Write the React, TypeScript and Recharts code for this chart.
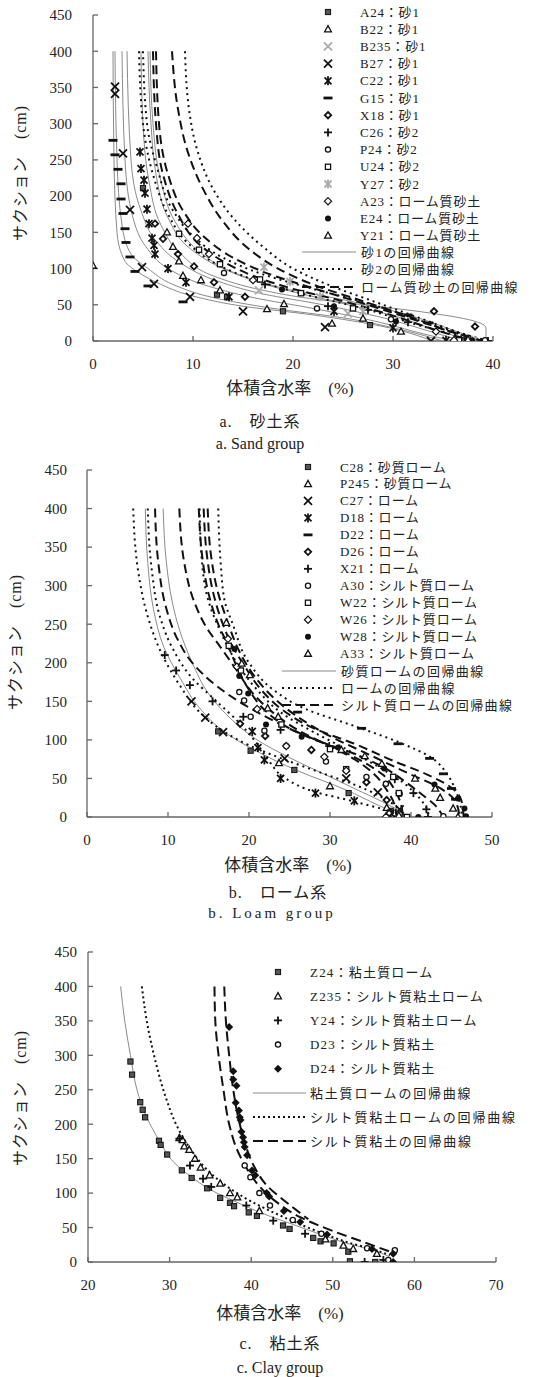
import React from "react";
import { ScatterChart, Scatter, XAxis, YAxis } from "recharts";

const SERIF = "'Liberation Serif', 'DejaVu Serif', 'Noto Sans CJK JP', serif";

// ---------- a. 砂土系 ----------
const a_A24 = [[5.0, 211], [12.4, 64], [13.4, 61], [19.0, 41], [27.7, 22], [36.9, 1]];
const a_B22 = [[0, 104], [7.4, 150], [8.0, 130], [8.6, 110], [10.8, 84], [17.4, 44], [23.9, 24], [36.5, 1]];
const a_B235 = [[16.6, 70], [25.5, 38], [38.0, 0]];
const a_B27 = [[2.2, 351], [2.2, 341], [3.0, 259], [3.7, 181], [4.9, 102], [6.1, 79], [9.7, 61], [15.0, 41], [23.2, 19], [33.8, 0]];
const a_C22 = [[4.7, 261], [4.8, 238], [5.1, 222], [5.2, 204], [5.4, 182], [5.6, 162], [5.9, 142], [6.1, 132], [6.2, 120], [7.5, 100], [9.3, 81], [13.6, 61], [24.1, 41], [30.0, 18], [35.3, 1]];
const a_G15 = [[2.0, 277], [2.2, 257], [2.5, 237], [2.8, 217], [2.8, 196], [3.0, 176], [3.2, 155], [3.3, 136], [3.7, 116], [4.2, 96], [5.5, 76], [9.0, 54], [31.5, 36], [33.6, 25]];
const a_X18 = [[6.2, 162], [7.0, 141], [8.5, 120], [10.1, 103], [12.1, 81], [15.2, 61], [34.1, 41], [38.2, 20], [37.5, 3]];
const a_C26 = [[17.2, 78], [23.5, 48], [27.5, 43], [31.5, 26], [39.5, 0]];
const a_P24 = [[13.1, 94], [22.4, 45], [29.8, 30], [39.2, 1]];
const a_U24 = [[8.6, 148], [10.6, 126], [12.7, 106], [16.7, 85], [20.8, 66], [26.0, 45], [36.6, 1]];
const a_Y27 = [[17.1, 102], [19.7, 82], [22.7, 61], [27.0, 41], [37.9, 1]];
const a_A23 = [[9.5, 162], [10.4, 142], [11.6, 120], [16.0, 84], [34.3, 13], [36.1, 1]];
const a_E24 = [[18.9, 71], [24.1, 48], [30.3, 27], [37.9, 1]];
const a_Y21 = [[9.0, 90], [12.7, 70], [19.1, 51], [27.0, 31], [30.8, 13], [37.5, 2]];

// regression curves
const a_sand1 = [
  [[2.0, 400], [2.1, 250], [2.4, 150], [3.2, 110], [4.5, 95], [6.5, 80], [10, 62], [15, 48], [22, 36], [29, 20], [34, 0]],
  [[2.2, 400], [2.4, 250], [2.9, 160], [3.8, 120], [5.5, 100], [8, 78], [12, 60], [18, 45], [25, 32], [31, 15], [35, 0]],
  [[2.9, 400], [3.2, 250], [4.0, 170], [5.3, 130], [7.5, 100], [11, 78], [16, 60], [22, 45], [28, 28], [33, 10], [36, 0]],
  [[3.4, 400], [3.8, 250], [4.8, 180], [6.2, 140], [8.5, 110], [12, 85], [17, 65], [23, 50], [29, 32], [34, 12], [37, 0]],
  [[4.8, 400], [5.0, 300], [5.6, 220], [6.8, 160], [8.8, 120], [12, 90], [17, 70], [21, 60], [27, 50], [33, 40], [38, 28], [39.3, 18], [39.3, 0]],
  [[5.5, 400], [5.8, 300], [6.3, 230], [7.5, 170], [9.5, 130], [13, 100], [18, 75], [24, 55], [30, 35], [35, 12], [38, 0]],
  [[5.7, 400], [6.0, 300], [6.8, 220], [8.2, 165], [10.5, 125], [14, 95], [19, 73], [25, 57], [31, 38], [36, 15], [39, 0]],
];
const a_sand2 = [
  [[4.6, 400], [5.0, 300], [6.0, 230], [7.5, 175], [9.5, 135], [12.5, 105], [16, 85], [21, 65], [27, 45], [33, 20], [37, 5], [38, 0]],
  [[5.0, 400], [5.4, 300], [6.4, 240], [8, 180], [10, 145], [13, 115], [17, 92], [22, 72], [28, 50], [34, 22], [38, 5], [39, 0]],
  [[9.2, 400], [9.6, 320], [10.5, 260], [12, 210], [14, 170], [17, 130], [20, 100], [24, 75], [28, 55], [33, 30], [37, 10], [39.5, 0]],
];
const a_loamySand = [
  [[6.0, 400], [6.3, 300], [7.0, 230], [8.5, 175], [10.5, 135], [13, 110], [16, 90], [20, 72], [25, 55], [30, 35], [35, 12], [38, 0]],
  [[6.3, 400], [6.6, 300], [7.5, 230], [9, 180], [11, 145], [14, 115], [17.5, 93], [22, 73], [27, 52], [32, 30], [36, 12], [39, 0]],
  [[7.9, 400], [8.5, 320], [9.5, 260], [11, 210], [13, 165], [15.5, 128], [18.5, 100], [22, 78], [27, 55], [32, 32], [36, 12], [39, 0]],
];

// ---------- b. ローム系 ----------
const b_C28 = [[16.2, 111], [20.2, 86], [25.6, 61], [32.3, 31], [37.5, 8], [39.2, 0]];
const b_P245 = [[23.7, 70], [30.0, 40], [37.0, 12], [38.5, 2]];
const b_C27 = [[12.9, 150], [14.6, 129], [16.8, 110], [24.4, 76], [32.0, 50], [35.9, 32], [38.6, 10]];
const b_D18 = [[20.4, 111], [21.1, 90], [21.9, 74], [23.9, 50], [28.2, 31], [33.0, 21], [37.5, 5]];
const b_D22 = [[26.0, 136], [33.9, 115], [38.4, 95], [42.3, 76], [44.0, 56], [45.0, 37], [45.5, 23]];
const b_D26 = [[18.9, 121], [22.0, 105], [27.7, 87], [34.5, 45], [37.0, 22], [37.3, 5]];
const b_X21 = [[9.6, 210], [11.0, 190], [12.7, 171], [15.5, 150], [19.3, 130], [23.9, 113], [29.9, 92], [38.0, 49], [40.3, 31], [41.9, 10], [42.1, 0]];
const b_A30 = [[18.8, 162], [19.4, 151], [20.2, 130], [21.9, 112], [24.6, 92], [29.5, 72], [34.5, 52], [36.9, 43], [38.6, 30], [44.0, 1]];
const b_W22 = [[17.5, 222], [19.0, 190], [24.0, 120], [30.0, 88], [32.0, 62], [37.8, 52], [38.5, 31], [39.5, 0]];
const b_W26 = [[17.4, 231], [18.5, 195], [21.0, 140], [24.6, 92], [29.3, 78], [32.0, 60], [36.9, 0]];
const b_W28 = [[18.2, 218], [18.8, 183], [19.9, 160], [22.1, 120], [26.5, 104], [31.0, 90], [36.7, 63], [42.9, 42], [45.8, 24], [46.6, 11], [46.8, 1], [40.9, 0]];
const b_A33 = [[17.2, 252], [19.1, 199], [20.1, 184], [22.3, 141], [23.6, 130], [31.4, 87], [34.3, 79], [36.4, 69], [40.5, 50], [43.0, 37], [43.6, 25], [45.2, 11], [45.8, 0]];

const b_sandyLoam = [
  [[7.2, 400], [7.5, 330], [8.2, 270], [9.5, 220], [11.5, 180], [14, 140], [17, 110], [21, 85], [26, 60], [32, 35], [36, 15], [38.5, 3], [39, 0]],
  [[9.4, 400], [9.8, 330], [10.5, 280], [11.5, 240], [13, 200], [15, 160], [18, 125], [21, 100], [25, 77], [30, 52], [34, 32], [37, 17], [39, 5], [39.5, 0]],
];
const b_loam = [
  [[5.7, 400], [6.3, 320], [7.5, 260], [9.3, 210], [11.5, 170], [14, 135], [17, 110], [20, 93], [24, 76], [29, 57], [33, 42], [36, 28], [38.5, 10], [39, 0]],
  [[7.5, 400], [8, 320], [9, 260], [10.5, 220], [13, 180], [16, 150], [19, 120], [21, 95], [22.5, 72], [24.5, 50], [28, 33], [33, 20], [37, 8], [38, 0]],
  [[13.9, 400], [14.2, 330], [15, 280], [16.5, 240], [18.5, 200], [21, 165], [24, 135], [28, 110], [32, 88], [36, 65], [39, 45], [41, 25], [42, 10], [42.2, 0]],
  [[16.2, 400], [16.5, 330], [17, 280], [18, 250], [20, 200], [23, 165], [27, 140], [33, 118], [38.5, 97], [42.5, 77], [44.5, 55], [45.5, 35], [46, 20], [46.3, 0]],
];
const b_siltLoam = [
  [[8.4, 400], [8.8, 330], [9.8, 270], [11.2, 230], [13, 200], [16, 170], [19.5, 145], [23, 125], [27, 105], [31, 88], [34, 72], [36.5, 55], [38, 35], [38.8, 15], [39, 0]],
  [[11.4, 400], [12, 330], [13.2, 280], [14.8, 245], [16.5, 220], [18.5, 190], [20.5, 160], [23, 135], [26.5, 110], [30, 92], [33, 75], [35.5, 55], [37, 35], [38, 15], [38.2, 0]],
  [[13.8, 400], [14.2, 340], [15, 290], [16.2, 250], [17.3, 225], [18.5, 195], [20, 165], [22, 138], [25, 115], [29, 97], [33, 82], [36.5, 65], [39, 48], [41, 32], [43, 15], [44, 0]],
  [[14.4, 400], [14.8, 340], [15.6, 290], [16.6, 255], [17.8, 225], [19.5, 195], [21.5, 165], [24, 140], [28, 115], [33, 95], [38, 72], [42, 55], [45, 38], [46.2, 22], [46.5, 0]],
  [[14.9, 400], [15.3, 340], [16.2, 290], [17.3, 255], [18.8, 215], [20.5, 185], [23, 155], [26, 130], [30, 105], [35, 80], [40, 55], [43.5, 38], [45.5, 20], [46, 0]],
];

// ---------- c. 粘土系 ----------
const c_Z24 = [[25.2, 291], [25.4, 272], [26.4, 232], [26.7, 221], [27.0, 210], [28.7, 176], [28.9, 170], [29.7, 156], [31.5, 133], [32.7, 122], [34.6, 107], [36.2, 93], [37.4, 86], [37.9, 81], [39.7, 72], [40.7, 67], [43.9, 53], [44.7, 48], [47.6, 35], [48.5, 30], [50.1, 27], [51.9, 15], [52.1, 1], [55.2, 0]];
const c_Z235 = [[31.2, 180], [31.6, 177], [31.8, 168], [32.4, 163], [33.1, 150], [33.8, 137], [34.9, 126], [36.2, 114], [37.4, 100], [38.3, 94], [41.0, 74], [49.1, 33], [51.3, 24], [52.5, 19], [55.4, 12]];
const c_Y24 = [[31.2, 179], [32.5, 140], [34.1, 121], [35.1, 109], [39.4, 82], [42.7, 60], [46.6, 41], [53.9, 0], [56.2, 3]];
const c_D23 = [[39.2, 140], [39.9, 123], [41.0, 100], [42.3, 82], [45.1, 61], [48.6, 41], [54.2, 20], [57.6, 17], [56.8, 3]];
const c_D24 = [[37.3, 341], [37.8, 277], [37.8, 265], [38.2, 256], [38.1, 231], [38.5, 220], [38.6, 210], [38.7, 206], [38.8, 189], [39.0, 181], [39.1, 174], [39.2, 167], [39.5, 155], [40.1, 133], [40.5, 126], [41.9, 100], [42.2, 95], [44.0, 74], [46.0, 58], [49.3, 40], [54.8, 19], [57.4, 12], [57.4, 0]];

const c_clayLoam = [
  [[24.0, 400], [24.5, 350], [25.2, 300], [26, 250], [27.2, 210], [28.8, 175], [30.5, 145], [32.5, 125], [35, 105], [38, 88], [41.5, 70], [45, 55], [48.5, 40], [51.5, 28], [54, 20], [56.5, 10], [57.5, 0]],
];
const c_siltyClayLoam = [
  [[26.6, 400], [27.2, 350], [28.3, 290], [29.5, 240], [31, 195], [32.5, 165], [34.5, 135], [37, 110], [40, 88], [44, 65], [48, 45], [52, 28], [55, 18], [57, 10]],
];
const c_siltyClay = [
  [[35.5, 400], [35.6, 350], [36, 300], [36.6, 250], [37.3, 200], [38.2, 165], [39.5, 135], [41, 110], [43, 88], [46, 65], [50, 45], [54, 28], [57, 15]],
  [[36.7, 400], [36.9, 350], [37.3, 300], [37.8, 250], [38.5, 205], [39.3, 170], [40.3, 140], [42, 110], [44.5, 85], [47, 62]],
];

const Y_TICKS = [0, 50, 100, 150, 200, 250, 300, 350, 400, 450];
const A_X_TICKS = [0, 10, 20, 30, 40];
const B_X_TICKS = [0, 10, 20, 30, 40, 50];
const C_X_TICKS = [20, 30, 40, 50, 60, 70];

const toPts = (arr: number[][]) => arr.map(([x, y]) => ({ x, y }));

const SOLID = { stroke: "#8a8a8a", strokeWidth: 1 };
const DOTTED = { stroke: "#111", strokeWidth: 2, strokeDasharray: "2 4" };
const DASHED = { stroke: "#111", strokeWidth: 2, strokeDasharray: "9 5" };

function Marker({ kind, cx, cy }: { kind: string; cx: number; cy: number }) {
  const k = "#111";
  switch (kind) {
    case "sq":
      return <rect x={cx - 2.6} y={cy - 2.6} width={5.2} height={5.2} fill="#555" stroke={k} strokeWidth={1} />;
    case "osq":
      return <rect x={cx - 2.6} y={cy - 2.6} width={5.2} height={5.2} fill="#fff" stroke={k} strokeWidth={1.3} />;
    case "tri":
      return <polygon points={`${cx},${cy - 3.6} ${cx + 3.4},${cy + 2.6} ${cx - 3.4},${cy + 2.6}`} fill="#fff" stroke={k} strokeWidth={1.3} />;
    case "x":
    case "gx": {
      const c = kind === "gx" ? "#aaa" : k;
      return (
        <g stroke={c} strokeWidth={1.8}>
          <line x1={cx - 4} y1={cy - 4} x2={cx + 4} y2={cy + 4} />
          <line x1={cx - 4} y1={cy + 4} x2={cx + 4} y2={cy - 4} />
        </g>
      );
    }
    case "ast":
    case "gast": {
      const c = kind === "gast" ? "#aaa" : k;
      return (
        <g stroke={c} strokeWidth={1.8}>
          <line x1={cx - 3.5} y1={cy - 3.5} x2={cx + 3.5} y2={cy + 3.5} />
          <line x1={cx - 3.5} y1={cy + 3.5} x2={cx + 3.5} y2={cy - 3.5} />
          <line x1={cx} y1={cy - 4.5} x2={cx} y2={cy + 4.5} />
        </g>
      );
    }
    case "dash":
      return <rect x={cx - 4.5} y={cy - 1.4} width={9} height={2.8} fill={k} />;
    case "dia":
      return <polygon points={`${cx},${cy - 3.2} ${cx + 3.2},${cy} ${cx},${cy + 3.2} ${cx - 3.2},${cy}`} fill="#fff" stroke={k} strokeWidth={1.8} />;
    case "odia":
      return <polygon points={`${cx},${cy - 3.6} ${cx + 3.6},${cy} ${cx},${cy + 3.6} ${cx - 3.6},${cy}`} fill="#fff" stroke={k} strokeWidth={1.2} />;
    case "fdia":
      return <polygon points={`${cx},${cy - 4} ${cx + 4},${cy} ${cx},${cy + 4} ${cx - 4},${cy}`} fill={k} />;
    case "plus":
      return (
        <g stroke={k} strokeWidth={1.8}>
          <line x1={cx - 4} y1={cy} x2={cx + 4} y2={cy} />
          <line x1={cx} y1={cy - 4} x2={cx} y2={cy + 4} />
        </g>
      );
    case "circ":
      return <circle cx={cx} cy={cy} r={2.6} fill="#fff" stroke={k} strokeWidth={1.3} />;
    case "dot":
      return <circle cx={cx} cy={cy} r={3} fill={k} />;
    default:
      return <g />;
  }
}

type Series = { name: string; data: number[][]; kind: string };
type CurveGroup = { name: string; curves: number[][][]; style: any };

const aSeries: Series[] = [
  { name: "A24：砂1", data: a_A24, kind: "sq" },
  { name: "B22：砂1", data: a_B22, kind: "tri" },
  { name: "B235：砂1", data: a_B235, kind: "gx" },
  { name: "B27：砂1", data: a_B27, kind: "x" },
  { name: "C22：砂1", data: a_C22, kind: "ast" },
  { name: "G15：砂1", data: a_G15, kind: "dash" },
  { name: "X18：砂1", data: a_X18, kind: "dia" },
  { name: "C26：砂2", data: a_C26, kind: "plus" },
  { name: "P24：砂2", data: a_P24, kind: "circ" },
  { name: "U24：砂2", data: a_U24, kind: "osq" },
  { name: "Y27：砂2", data: a_Y27, kind: "gast" },
  { name: "A23：ローム質砂土", data: a_A23, kind: "odia" },
  { name: "E24：ローム質砂土", data: a_E24, kind: "dot" },
  { name: "Y21：ローム質砂土", data: a_Y21, kind: "tri" },
];
const aCurves: CurveGroup[] = [
  { name: "砂1の回帰曲線", curves: a_sand1, style: SOLID },
  { name: "砂2の回帰曲線", curves: a_sand2, style: DOTTED },
  { name: "ローム質砂土の回帰曲線", curves: a_loamySand, style: DASHED },
];

const bSeries: Series[] = [
  { name: "C28：砂質ローム", data: b_C28, kind: "sq" },
  { name: "P245：砂質ローム", data: b_P245, kind: "tri" },
  { name: "C27：ローム", data: b_C27, kind: "x" },
  { name: "D18：ローム", data: b_D18, kind: "ast" },
  { name: "D22：ローム", data: b_D22, kind: "dash" },
  { name: "D26：ローム", data: b_D26, kind: "dia" },
  { name: "X21：ローム", data: b_X21, kind: "plus" },
  { name: "A30：シルト質ローム", data: b_A30, kind: "circ" },
  { name: "W22：シルト質ローム", data: b_W22, kind: "osq" },
  { name: "W26：シルト質ローム", data: b_W26, kind: "odia" },
  { name: "W28：シルト質ローム", data: b_W28, kind: "dot" },
  { name: "A33：シルト質ローム", data: b_A33, kind: "tri" },
];
const bCurves: CurveGroup[] = [
  { name: "砂質ロームの回帰曲線", curves: b_sandyLoam, style: SOLID },
  { name: "ロームの回帰曲線", curves: b_loam, style: DOTTED },
  { name: "シルト質ロームの回帰曲線", curves: b_siltLoam, style: DASHED },
];

const cSeries: Series[] = [
  { name: "Z24：粘土質ローム", data: c_Z24, kind: "sq" },
  { name: "Z235：シルト質粘土ローム", data: c_Z235, kind: "tri" },
  { name: "Y24：シルト質粘土ローム", data: c_Y24, kind: "plus" },
  { name: "D23：シルト質粘土", data: c_D23, kind: "circ" },
  { name: "D24：シルト質粘土", data: c_D24, kind: "fdia" },
];
const cCurves: CurveGroup[] = [
  { name: "粘土質ロームの回帰曲線", curves: c_clayLoam, style: SOLID },
  { name: "シルト質粘土ロームの回帰曲線", curves: c_siltyClayLoam, style: { ...DOTTED, strokeDasharray: "2 3" } },
  { name: "シルト質粘土の回帰曲線", curves: c_siltyClay, style: { ...DASHED, strokeDasharray: "10 5" } },
];

const tickStyle = { fontSize: 15, fill: "#222", fontFamily: SERIF };

function Panel(props: {
  top: number; height: number; margin: any; yWidth: number; yTickMargin: number;
  xDomain: number[]; xTicks: number[]; series: Series[]; curves: CurveGroup[];
}) {
  const { top, height, margin, yWidth, yTickMargin, xDomain, xTicks, series, curves } = props;
  return (
    <div style={{ position: "absolute", left: 0, top }}>
      <ScatterChart width={540} height={height} margin={margin}>
        <XAxis type="number" dataKey="x" domain={xDomain} ticks={xTicks} allowDataOverflow
          height={30} tickSize={-5} tickMargin={22} stroke="#666" strokeWidth={1.3} tick={tickStyle} />
        <YAxis type="number" dataKey="y" domain={[0, 450]} ticks={Y_TICKS} allowDataOverflow
          width={yWidth} tickSize={-5} tickMargin={yTickMargin} stroke="#666" strokeWidth={1.3} tick={tickStyle} />
        {curves.flatMap((g, gi) =>
          g.curves.map((c, ci) => (
            <Scatter key={`c${gi}-${ci}`} data={toPts(c)} line={g.style} lineJointType="monotoneY"
              shape={() => <g />} isAnimationActive={false} legendType="none" />
          ))
        )}
        {series.map((s, i) => (
          <Scatter key={`s${i}`} name={s.name} data={toPts(s.data)} isAnimationActive={false}
            shape={(p: any) => <Marker kind={s.kind} cx={p.cx} cy={p.cy} />} />
        ))}
      </ScatterChart>
    </div>
  );
}

function LegendBlock(props: {
  series: Series[]; curves: CurveGroup[]; mx: number; tx: number; y0: number; step: number;
  curveY: number[]; lx1: number; lx2: number; ltx: number; spacing: number;
}) {
  const { series, curves, mx, tx, y0, step, curveY, lx1, lx2, ltx, spacing } = props;
  return (
    <g fontFamily={SERIF} fontSize={13} fill="#222">
      {series.map((s, i) => (
        <g key={s.name}>
          <Marker kind={s.kind} cx={mx} cy={y0 + i * step} />
          <text x={tx} y={y0 + i * step} dominantBaseline="central" letterSpacing={spacing}>{s.name}</text>
        </g>
      ))}
      {curves.map((g, i) => (
        <g key={g.name}>
          <line x1={lx1} x2={lx2} y1={curveY[i]} y2={curveY[i]} {...g.style} />
          <text x={ltx} y={curveY[i]} dominantBaseline="central" letterSpacing={spacing + 0.6}>{g.name}</text>
        </g>
      ))}
    </g>
  );
}

export default function App() {
  return (
    <div style={{ position: "absolute", left: 0, top: 0, width: 540, height: 1377, background: "#fff", fontFamily: SERIF }}>
      <Panel top={0} height={460} margin={{ top: 15, right: 47, left: 0, bottom: 89 }} yWidth={93} yTickMargin={26}
        xDomain={[0, 40]} xTicks={A_X_TICKS} series={aSeries} curves={aCurves} />
      <Panel top={460} height={460} margin={{ top: 10, right: 48, left: 0, bottom: 73 }} yWidth={87} yTickMargin={25}
        xDomain={[0, 50]} xTicks={B_X_TICKS} series={bSeries} curves={bCurves} />
      <Panel top={920} height={457} margin={{ top: 32, right: 44, left: 0, bottom: 85 }} yWidth={88} yTickMargin={16}
        xDomain={[20, 70]} xTicks={C_X_TICKS} series={cSeries} curves={cCurves} />
      <svg width={540} height={1377} style={{ position: "absolute", left: 0, top: 0, pointerEvents: "none" }}>
        <LegendBlock series={aSeries} curves={aCurves} mx={328} tx={360} y0={12} step={17.2}
          curveY={[252, 269, 287]} lx1={302} lx2={356} ltx={361} spacing={0.8} />
        <LegendBlock series={bSeries} curves={bCurves} mx={308} tx={340} y0={467} step={16.97}
          curveY={[671, 688, 705]} lx1={282} lx2={336} ltx={341} spacing={0.8} />
        <LegendBlock series={cSeries} curves={cCurves} mx={278} tx={310} y0={972} step={24.2}
          curveY={[1093, 1117, 1141]} lx1={253} lx2={306} ltx={310} spacing={1.2} />

        <g fontFamily={SERIF} fill="#222" textAnchor="middle" dominantBaseline="central">
          <text x={20} y={173} fontSize={16} letterSpacing={1} transform="rotate(-90 20 173)">サクション　(cm)</text>
          <text x={15} y={642} fontSize={16} letterSpacing={1} transform="rotate(-90 15 642)">サクション　(cm)</text>
          <text x={20} y={1098} fontSize={16} letterSpacing={1} transform="rotate(-90 20 1098)">サクション　(cm)</text>

          <text x={290} y={388} fontSize={17}>体積含水率　(%)</text>
          <text x={260} y={421} fontSize={16} letterSpacing={1}>a.　砂土系</text>
          <text x={260} y={443} fontSize={16}>a. Sand group</text>

          <text x={288} y={865} fontSize={17}>体積含水率　(%)</text>
          <text x={278} y={892} fontSize={16} letterSpacing={1}>b.　ローム系</text>
          <text x={272} y={913} fontSize={15} letterSpacing={3}>b. Loam group</text>

          <text x={280} y={1313} fontSize={17}>体積含水率　(%)</text>
          <text x={280} y={1343} fontSize={16} letterSpacing={1}>c.　粘土系</text>
          <text x={280} y={1367} fontSize={16}>c. Clay group</text>
        </g>
      </svg>
    </div>
  );
}
